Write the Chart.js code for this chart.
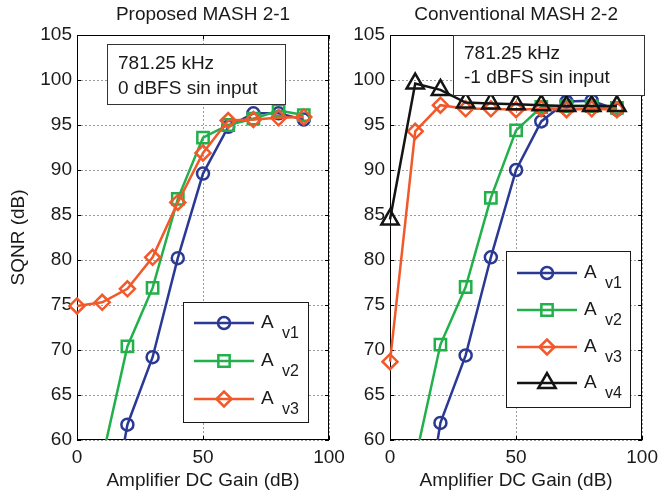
<!DOCTYPE html>
<html>
<head>
<meta charset="utf-8">
<script src="https://cdn.jsdelivr.net/npm/chart.js@4.4.0/dist/chart.umd.min.js"></script>
<style>
    html, body { margin: 0; padding: 0; background: #fff; }
    #wrap { position: relative; width: 664px; height: 496px; }
    canvas { position: absolute; left: 0; top: 0; }
</style>
</head>
<body>
<div id="wrap">
    <canvas id="leftChart" width="664" height="496"></canvas>
    <canvas id="rightChart" width="664" height="496"></canvas>
</div>
<script>
// amplifier DC gain (dB) on the x axis
var gainDb = [0, 10, 20, 30, 40, 50, 60, 70, 80, 90];

// Proposed MASH 2-1, SQNR (dB)
var proposedAv1 = [null, 46.2, 61.7, 69.2, 80.2, 89.6, 94.8, 96.3, 96.3, 95.6];
var proposedAv2 = [null, 57.9, 70.4, 76.9, 86.8, 93.6, 95.0, 95.7, 96.6, 96.1];
var proposedAv3 = [74.9, 75.3, 76.8, 80.3, 86.4, 91.9, 95.5, 95.6, 95.8, 95.9];

// Conventional MASH 2-2, SQNR (dB)
var conventionalAv1 = [null, 44.6, 61.9, 69.4, 80.3, 90.0, 95.4, 97.6, 97.7, 96.7];
var conventionalAv2 = [null, 57.8, 70.6, 77.0, 86.9, 94.4, 97.0, 97.1, 97.1, 96.9];
var conventionalAv3 = [68.7, 94.3, 97.2, 96.8, 96.8, 96.7, 96.8, 96.7, 96.8, 96.7];
var conventionalAv4 = [84.5, 99.6, 98.9, 97.5, 97.4, 97.3, 97.2, 97.1, 97.1, 97.1];

var seriesSubs = ['v1', 'v2', 'v3', 'v4'];
var xRange = [0, 100];
var yRange = [60, 105];

var FONT = '"Liberation Sans", Arial, Helvetica, sans-serif';
var styles = [
    { color: '#2a3a94', point: 'circle', radius: 6 },
    { color: '#22b04b', point: 'rect', radius: 8 },
    { color: '#f1592a', point: 'rectRot', radius: 7.5 },
    { color: '#141414', point: 'triangle', radius: 10 }
];

function drawMarker(ctx, st, x, y) {
    ctx.strokeStyle = st.color;
    ctx.fillStyle = 'rgba(0,0,0,0)';
    ctx.lineWidth = 2.5;
    Chart.helpers.drawPoint(ctx, { pointStyle: st.point, radius: st.radius, borderWidth: 2.5, rotation: 0 }, x, y);
}

var decorPlugin = {
    id: 'decor',
    beforeDatasetsDraw: function (chart, args, opts) {
        var ctx = chart.ctx, a = chart.chartArea;
        var xs = chart.scales.x, ys = chart.scales.y;
        ctx.save();
        ctx.strokeStyle = '#000';
        ctx.lineWidth = 1;
        ctx.strokeRect(Math.round(a.left) + 0.5, Math.round(a.top) + 0.5,
            Math.round(a.right - a.left) - 1, Math.round(a.bottom - a.top) - 1);
        // inward tick marks like MATLAB
        ctx.beginPath();
        xs.ticks.forEach(function (t) {
            var px = Math.round(xs.getPixelForValue(t.value)) + 0.5;
            ctx.moveTo(px, a.bottom); ctx.lineTo(px, a.bottom - 4);
            ctx.moveTo(px, a.top); ctx.lineTo(px, a.top + 4);
        });
        ys.ticks.forEach(function (t) {
            var py = Math.round(ys.getPixelForValue(t.value)) + 0.5;
            ctx.moveTo(a.left, py); ctx.lineTo(a.left + 4, py);
            ctx.moveTo(a.right, py); ctx.lineTo(a.right - 4, py);
        });
        ctx.stroke();
        // panel title
        ctx.fillStyle = '#1a1a1a';
        ctx.font = '19px ' + FONT;
        ctx.textAlign = 'center';
        ctx.textBaseline = 'middle';
        ctx.fillText(opts.title, (a.left + a.right) / 2, 15);
        ctx.restore();
    },
    afterDatasetsDraw: function (chart, args, opts) {
        var ctx = chart.ctx;
        ctx.save();
        // note box
        var n = opts.note;
        ctx.fillStyle = '#fff';
        ctx.fillRect(n.x, n.y, n.w, n.h);
        ctx.strokeStyle = '#333';
        ctx.lineWidth = 1;
        ctx.strokeRect(n.x + 0.5, n.y + 0.5, n.w, n.h);
        ctx.fillStyle = '#1a1a1a';
        ctx.font = '19px ' + FONT;
        ctx.textAlign = 'left';
        ctx.textBaseline = 'middle';
        n.lines.forEach(function (s, i) {
            ctx.fillText(s, n.x + 11, n.lineY[i]);
        });
        // legend
        var L = opts.legend;
        ctx.fillStyle = '#fff';
        ctx.fillRect(L.x, L.y, L.w, L.h);
        ctx.strokeStyle = '#1a1a1a';
        ctx.strokeRect(L.x + 0.5, L.y + 0.5, L.w, L.h);
        for (var i = 0; i < L.rows.length; i++) {
            var y = L.rows[i], st = styles[i];
            ctx.strokeStyle = st.color;
            ctx.lineWidth = 2.5;
            ctx.beginPath();
            ctx.moveTo(L.x + 11, y); ctx.lineTo(L.x + 71, y);
            ctx.stroke();
            drawMarker(ctx, st, L.x + 41, y);
            ctx.fillStyle = '#1a1a1a';
            ctx.textAlign = 'left';
            ctx.textBaseline = 'middle';
            ctx.font = '19px ' + FONT;
            ctx.fillText('A', L.x + 78, y);
            ctx.font = '16px ' + FONT;
            ctx.fillText(seriesSubs[i], L.x + 99, y + 11);
        }
        ctx.restore();
    }
};

function makeChart(id, series, cfg) {
    var datasets = series.map(function (values, i) {
        var st = styles[i];
        return {
            label: 'A ' + seriesSubs[i],
            data: values,
            borderColor: st.color,
            borderWidth: 2.5,
            pointStyle: st.point,
            pointRadius: st.radius,
            pointBorderWidth: 2.5,
            pointBorderColor: st.color,
            pointBackgroundColor: 'rgba(0,0,0,0)',
            tension: 0,
            order: series.length - i,
            clip: { left: 12, top: 0, right: 0, bottom: 0 }
        };
    });
    return new Chart(document.getElementById(id), {
        type: 'line',
        data: { labels: gainDb, datasets: datasets },
        options: {
            responsive: false,
            animation: false,
            events: [],
            layout: { padding: cfg.padding },
            scales: {
                x: {
                    type: 'linear',
                    min: xRange[0], max: xRange[1],
                    ticks: { stepSize: 50, color: '#1a1a1a', padding: 6, font: { family: FONT, size: 19 } },
                    grid: { color: '#9a9a9a', drawTicks: false },
                    border: { display: false, dash: [2, 2] },
                    title: { display: true, text: 'Amplifier DC Gain (dB)', color: '#1a1a1a',
                        font: { family: FONT, size: 19 }, padding: { top: 0, bottom: 4 } },
                    afterFit: function (s) { s.height = 56; }
                },
                y: {
                    min: yRange[0], max: yRange[1],
                    ticks: { stepSize: 5, color: '#1a1a1a', padding: 5, font: { family: FONT, size: 19 } },
                    grid: { color: '#9a9a9a', drawTicks: false },
                    border: { display: false, dash: [2, 2] },
                    title: { display: cfg.yTitle, text: 'SQNR (dB)', color: '#1a1a1a',
                        font: { family: FONT, size: 19 }, padding: { top: 7, bottom: 7 } },
                    afterFit: function (s) { s.width = cfg.yWidth; }
                }
            },
            plugins: {
                legend: { display: false },
                tooltip: { enabled: false },
                decor: { title: cfg.title, note: cfg.note, legend: cfg.legend }
            }
        },
        plugins: [decorPlugin]
    });
}

makeChart('leftChart', [proposedAv1, proposedAv2, proposedAv3], {
    title: 'Proposed MASH 2-1',
    yTitle: true,
    yWidth: 77,
    padding: { left: 0, top: 35, right: 335, bottom: 0 },
    note: { x: 107, y: 44, w: 178, h: 60, lines: ['781.25 kHz', '0 dBFS sin input'], lineY: [64, 89] },
    legend: { x: 183, y: 302, w: 125, h: 120, rows: [323, 361, 399] }
});

makeChart('rightChart', [conventionalAv1, conventionalAv2, conventionalAv3, conventionalAv4], {
    title: 'Conventional MASH 2-2',
    yTitle: false,
    yWidth: 58,
    padding: { left: 332, top: 35, right: 19, bottom: 0 },
    note: { x: 453, y: 35, w: 191, h: 60, lines: ['781.25 kHz', '-1 dBFS sin input'], lineY: [54, 78] },
    legend: { x: 506, y: 251, w: 124, h: 156, rows: [273, 310, 347, 383] }
});
</script>
</body>
</html>
